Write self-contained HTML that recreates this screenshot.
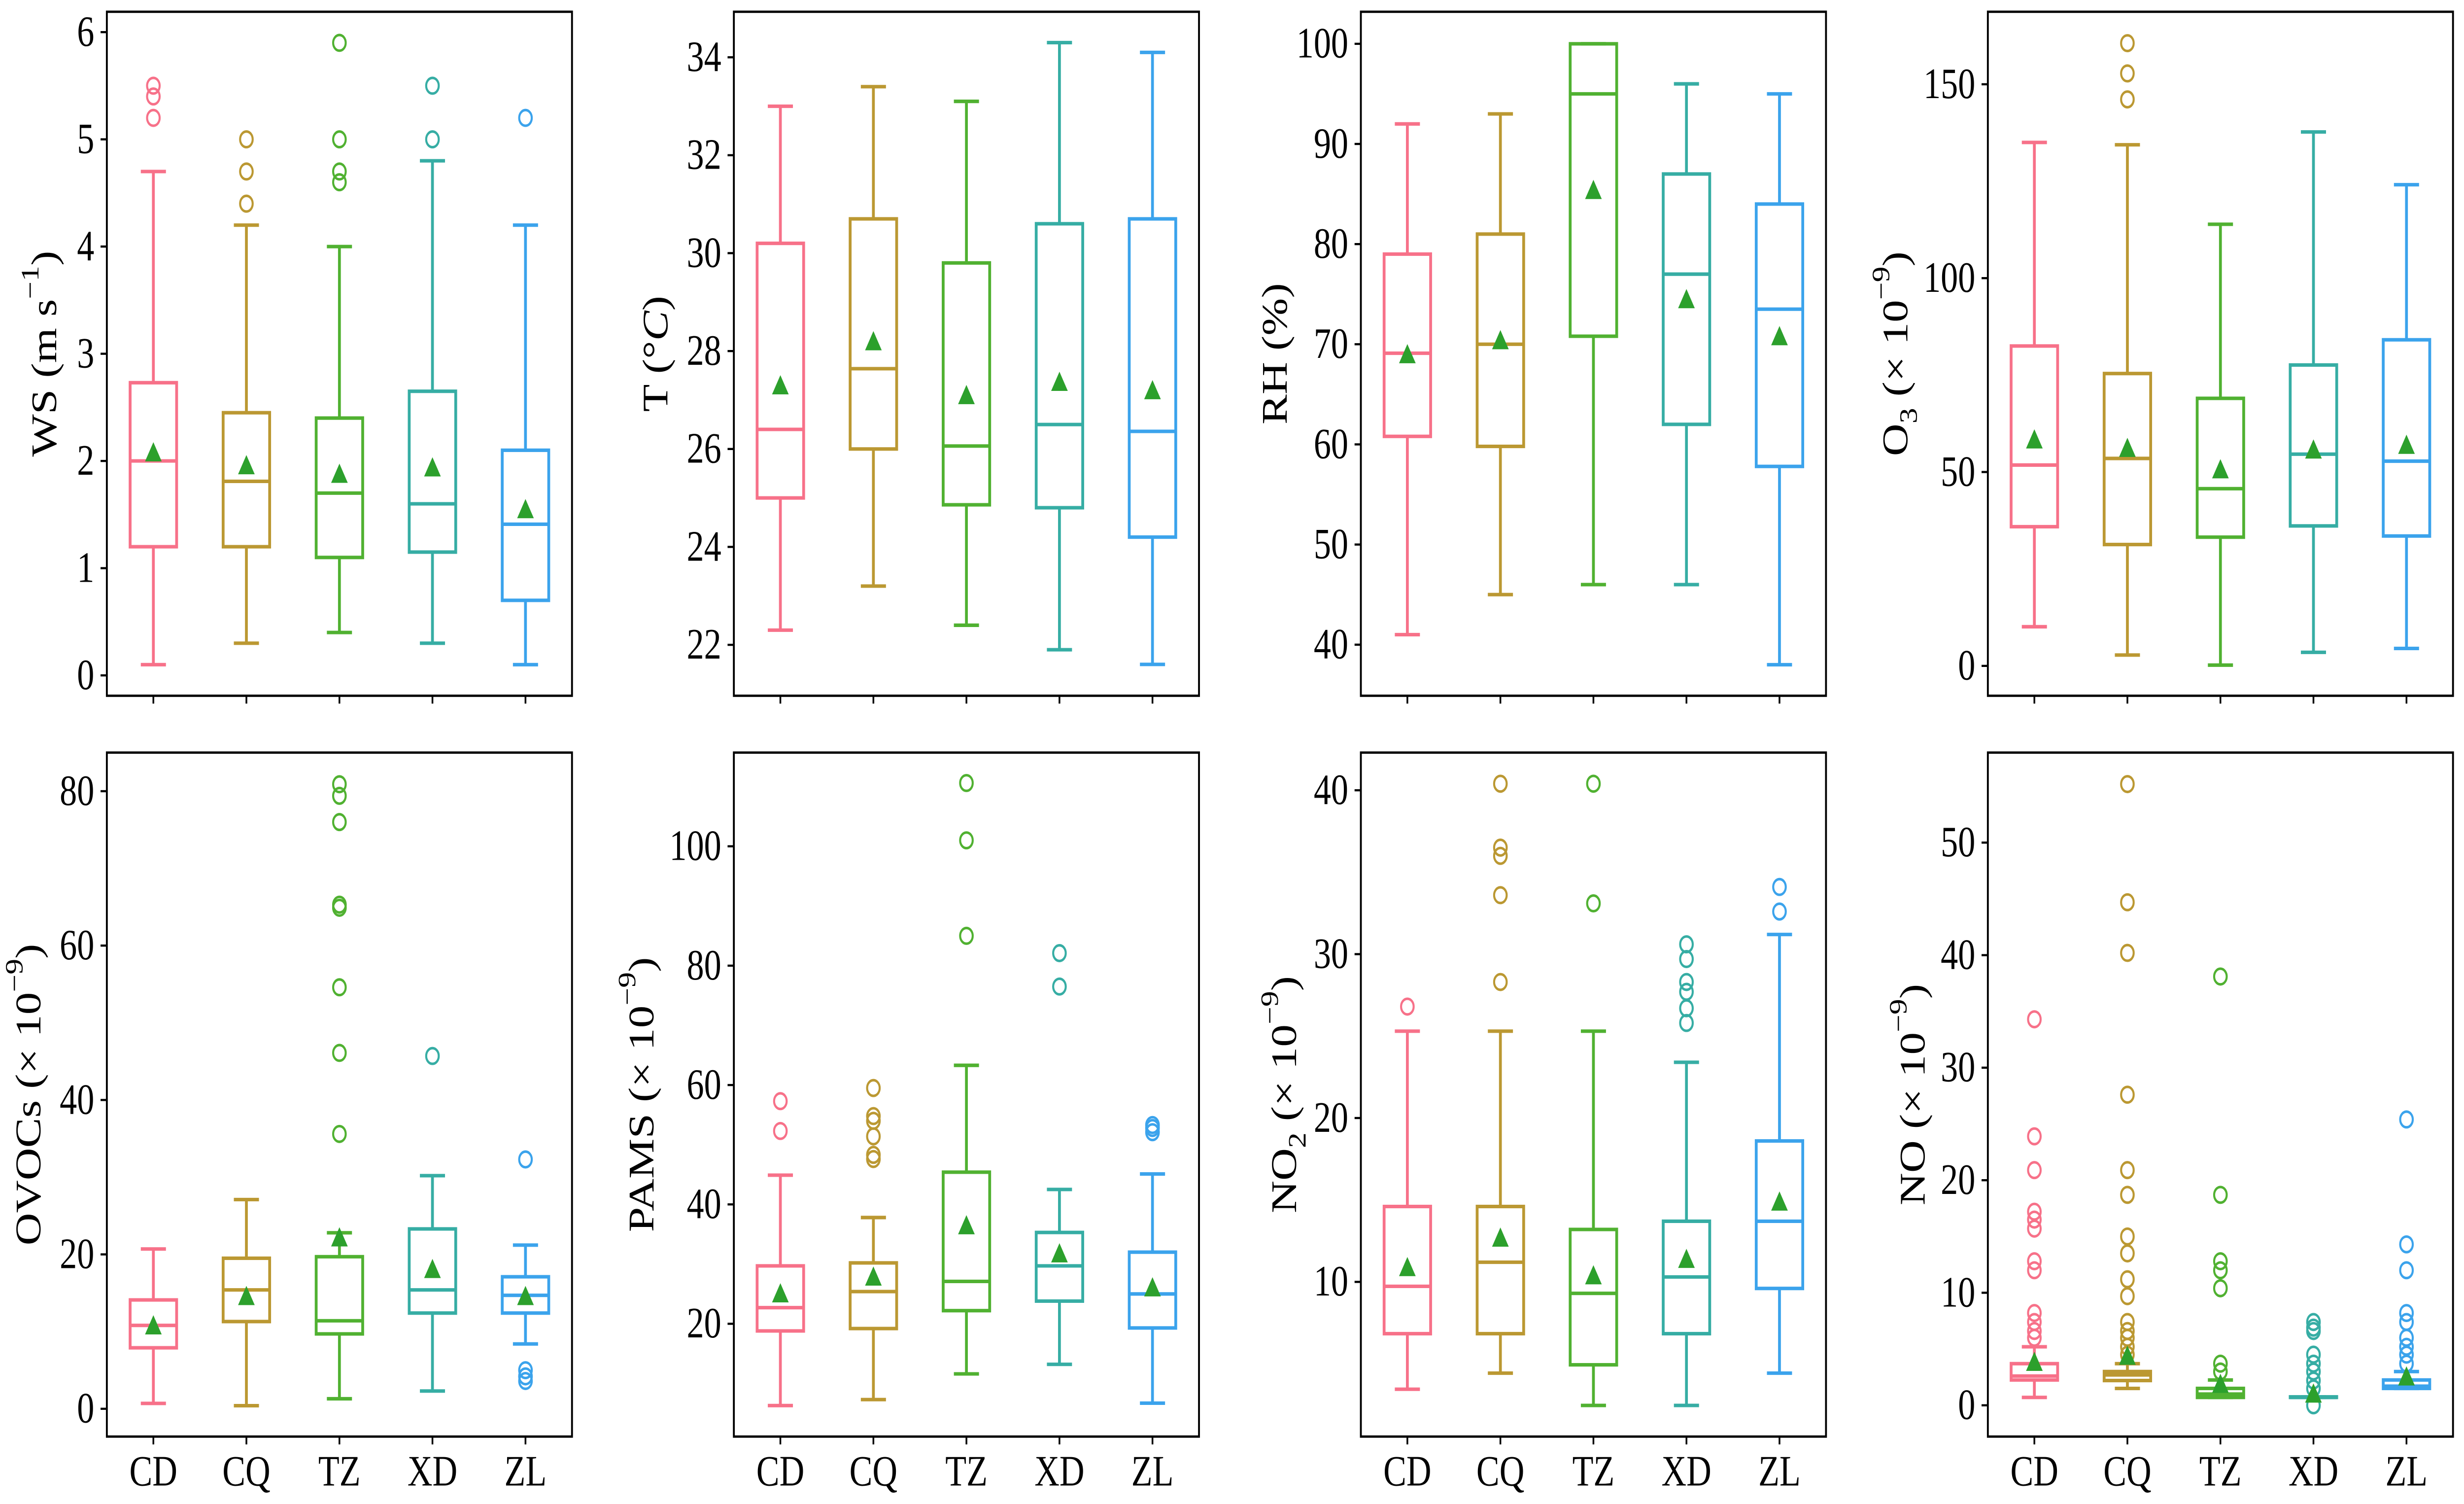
<!DOCTYPE html>
<html>
<head>
<meta charset="utf-8">
<style>
html,body{margin:0;padding:0;background:#fff;width:100%;height:100%;overflow:hidden;}
svg{display:block;width:100vw;height:100vh;}
text{font-family:"Liberation Serif","Times New Roman",serif;fill:#000;}
</style>
</head>
<body>
<svg id="chart" xmlns="http://www.w3.org/2000/svg" viewBox="0 0 1568 767.4" preserveAspectRatio="none">
<rect x="0" y="0" width="1568" height="767.4" fill="#fff"/>
</svg>
<script>
const categories = ["CD","CQ","TZ","XD","ZL"];
const colors = ["#f77189","#bb9832","#50b131","#36ada4","#3ba3ec"];

// WS
const wsLow=[0.1,0.3,0.4,0.3,0.1];
const wsQ1=[1.2,1.2,1.1,1.15,0.7];
const wsMed=[2.0,1.81,1.7,1.6,1.41];
const wsQ3=[2.73,2.45,2.4,2.65,2.1];
const wsHigh=[4.7,4.2,4.0,4.8,4.2];
const wsMean=[2.08,1.96,1.88,1.94,1.55];
const wsOut=[[5.5,5.4,5.2],[5.0,4.7,4.4],[5.9,5.0,4.7,4.6],[5.5,5.0],[5.2]];
const wsTicks=[0,1,2,3,4,5,6];
// T
const tLow=[22.3,23.2,22.4,21.9,21.6];
const tQ1=[25.0,26.0,24.86,24.8,24.2];
const tMed=[26.4,27.64,26.06,26.5,26.36];
const tQ3=[30.2,30.7,29.8,30.6,30.7];
const tHigh=[33.0,33.4,33.1,34.3,34.1];
const tMean=[27.3,28.2,27.1,27.37,27.2];
const tOut=[[],[],[],[],[]];
const tTicks=[22,24,26,28,30,32,34];
// RH
const rhLow=[41,45,46,46,38];
const rhQ1=[60.8,59.8,70.8,62,57.8];
const rhMed=[69.1,70.0,95,77,73.5];
const rhQ3=[79,81,100,87,84];
const rhHigh=[92,93,100,96,95];
const rhMean=[69.0,70.4,85.4,74.5,70.8];
const rhOut=[[],[],[],[],[]];
const rhTicks=[40,50,60,70,80,90,100];
// O3
const o3Low=[10.1,2.8,0.2,3.5,4.5];
const o3Q1=[35.9,31.3,33.2,36.1,33.5];
const o3Med=[51.8,53.5,45.7,54.6,52.8];
const o3Q3=[82.5,75.4,69,77.6,84.1];
const o3High=[135,134.4,113.9,137.7,124.1];
const o3Mean=[58.4,56.2,50.7,55.8,57];
const o3Out=[[],[160.6,152.8,146.1],[],[],[]];
const o3Ticks=[0,50,100,150];
// OVOCs
const ovLow=[0.7,0.4,1.3,2.3,8.4];
const ovQ1=[7.9,11.3,9.7,12.4,12.4];
const ovMed=[10.8,15.4,11.4,15.4,14.7];
const ovQ3=[14.1,19.5,19.7,23.3,17.1];
const ovHigh=[20.7,27.1,22.8,30.2,21.2];
const ovMean=[10.8,14.6,22.2,18.1,14.6];
const ovOut=[[],[],[80.9,79.4,76.0,65.3,64.9,54.6,46.1,35.6],[45.7],[32.3,5.0,4.2,3.6]];
const ovTicks=[0,20,40,60,80];
// PAMS
const paLow=[6.3,7.3,11.6,13.2,6.7];
const paQ1=[18.8,19.2,22.2,23.8,19.3];
const paMed=[22.7,25.4,27.1,29.7,25.0];
const paQ3=[29.7,30.2,45.4,35.3,32.0];
const paHigh=[44.9,37.8,63.3,42.5,45.1];
const paMean=[25.1,27.9,36.5,31.8,26.1];
const paOut=[[57.3,52.3],[59.5,54.8,54.0,51.4,48.3,47.6],[110.6,101,85],[82.1,76.5],[53.3,52.8,52.1]];
const paTicks=[20,40,60,80,100];
// NO2
const n2Low=[3.45,4.43,2.46,2.46,4.43];
const n2Q1=[6.84,6.84,4.94,6.84,9.6];
const n2Med=[9.73,11.2,9.3,10.3,13.7];
const n2Q3=[14.6,14.6,13.2,13.7,18.6];
const n2High=[25.3,25.3,25.3,23.4,31.2];
const n2Mean=[10.9,12.7,10.4,11.4,14.9];
const n2Out=[[26.8],[40.4,36.5,36.0,33.6,28.3],[40.4,33.1],[30.6,29.7,28.3,27.7,26.7,25.8],[34.1,32.6]];
const n2Ticks=[10,20,30,40];
// NO
const noLow=[0.7,1.5,0.7,0.7,1.5];
const noQ1=[2.25,2.2,0.7,0.7,1.5];
const noMed=[2.6,2.7,1.0,0.7,1.7];
const noQ3=[3.7,3.0,1.5,0.75,2.25];
const noHigh=[5.2,3.7,2.25,0.75,3.0];
const noMean=[3.86,4.4,1.9,1.04,2.56];
const noOut=[[34.3,23.9,20.9,17.2,16.5,15.7,12.8,12.0,8.2,7.4,6.6,6.0],[55.2,44.7,40.2,27.6,20.9,18.7,15.0,13.5,11.2,9.7,7.4,6.6,6.0,5.2,4.5],[38.1,18.7,12.8,12.0,10.4,3.7,3.0],[7.4,6.9,6.6,4.5,3.7,3.0,2.2,1.5,0],[25.4,14.3,12.0,8.2,7.4,6.0,5.2,4.5,3.7]];
const noTicks=[0,10,20,30,40,50];

const NS="http://www.w3.org/2000/svg";
const svg=document.getElementById("chart");
function mk(tag,attrs,parent){const e=document.createElementNS(NS,tag);for(const k in attrs)e.setAttribute(k,attrs[k]);(parent||svg).appendChild(e);return e;}

const panels=[
 {key:"ws",col:0,row:0,min:-0.19,max:6.19,low:wsLow,q1:wsQ1,med:wsMed,q3:wsQ3,high:wsHigh,mean:wsMean,out:wsOut,ticks:wsTicks,lx:28,label:'WS (m s<tspan baseline-shift="super" font-size="16">−1</tspan>)'},
 {key:"t",col:1,row:0,min:20.96,max:34.93,low:tLow,q1:tQ1,med:tMed,q3:tQ3,high:tHigh,mean:tMean,out:tOut,ticks:tTicks,lx:417,label:'T (°<tspan font-style="italic">C</tspan>)'},
 {key:"rh",col:2,row:0,min:34.9,max:103.2,low:rhLow,q1:rhQ1,med:rhMed,q3:rhQ3,high:rhHigh,mean:rhMean,out:rhOut,ticks:rhTicks,lx:811,label:'RH (%)'},
 {key:"o3",col:3,row:0,min:-7.7,max:168.7,low:o3Low,q1:o3Q1,med:o3Med,q3:o3Q3,high:o3High,mean:o3Mean,out:o3Out,ticks:o3Ticks,lx:1206,label:'O<tspan baseline-shift="sub" font-size="16">3</tspan> (× 10<tspan baseline-shift="super" font-size="16">−9</tspan>)'},
 {key:"ovocs",col:0,row:1,min:-3.6,max:85.0,low:ovLow,q1:ovQ1,med:ovMed,q3:ovQ3,high:ovHigh,mean:ovMean,out:ovOut,ticks:ovTicks,lx:18,label:'OVOCs (× 10<tspan baseline-shift="super" font-size="16">−9</tspan>)'},
 {key:"pams",col:1,row:1,min:1.1,max:115.7,low:paLow,q1:paQ1,med:paMed,q3:paQ3,high:paHigh,mean:paMean,out:paOut,ticks:paTicks,lx:408,label:'PAMS (× 10<tspan baseline-shift="super" font-size="16">−9</tspan>)'},
 {key:"no2",col:2,row:1,min:0.56,max:42.3,low:n2Low,q1:n2Q1,med:n2Med,q3:n2Q3,high:n2High,mean:n2Mean,out:n2Out,ticks:n2Ticks,lx:817,label:'NO<tspan baseline-shift="sub" font-size="16">2</tspan> (× 10<tspan baseline-shift="super" font-size="16">−9</tspan>)'},
 {key:"no",col:3,row:1,min:-2.78,max:58.0,low:noLow,q1:noQ1,med:noMed,q3:noQ3,high:noHigh,mean:noMean,out:noOut,ticks:noTicks,lx:1217,label:'NO (× 10<tspan baseline-shift="super" font-size="16">−9</tspan>)'}
];
const lefts=[68,467,866,1265], tops=[6,384], W=296, H=349;

panels.forEach(p=>{
  const L=lefts[p.col], T=tops[p.row], B=T+H;
  const g=mk("g",{});
  
  
  const y=v=>B-(v-p.min)/(p.max-p.min)*H;
  const x=i=>L+W*(i+0.5)/5;
  const bw=W/5*0.5, cw=bw*0.54;
  const fr=mk("rect",{x:L,y:T,width:W,height:H,fill:"none",stroke:"#000","stroke-width":1.2},g);
  
  
  p.ticks.forEach(t=>{
    const yy=y(t);
    mk("line",{x1:L-4,x2:L,y1:yy,y2:yy,stroke:"#000","stroke-width":1.1},g);
    const tl=mk("text",{x:L-8,y:yy+7,"text-anchor":"end","font-size":22},g);
    tl.textContent=t;
    
    
  });
  categories.forEach((c,i)=>{
    mk("line",{x1:x(i),x2:x(i),y1:B,y2:B+4,stroke:"#000","stroke-width":1.1},g);
    if(p.row===1){
      const xl=mk("text",{x:x(i),y:758,"text-anchor":"middle","font-size":22},g);
      xl.textContent=c;
      
      
    }
  });
  const yl=mk("text",{x:p.lx,y:(T+B)/2,"text-anchor":"middle","font-size":23,transform:`rotate(-90 ${p.lx} ${(T+B)/2})`,"dominant-baseline":"central"},g);
  yl.innerHTML=p.label;
  
  
  categories.forEach((c,i)=>{
    const col=colors[i], cx=x(i);
    const bg=mk("g",{stroke:col,"stroke-width":1.8,fill:"none"},g);
    
    
    mk("line",{x1:cx,x2:cx,y1:y(p.low[i]),y2:y(p.q1[i])},bg);
    mk("line",{x1:cx,x2:cx,y1:y(p.q3[i]),y2:y(p.high[i])},bg);
    mk("line",{x1:cx-cw/2,x2:cx+cw/2,y1:y(p.low[i]),y2:y(p.low[i])},bg);
    mk("line",{x1:cx-cw/2,x2:cx+cw/2,y1:y(p.high[i]),y2:y(p.high[i])},bg);
    mk("rect",{x:cx-bw/2,y:y(p.q3[i]),width:bw,height:Math.max(0.1,y(p.q1[i])-y(p.q3[i]))},bg);
    mk("line",{x1:cx-bw/2,x2:cx+bw/2,y1:y(p.med[i]),y2:y(p.med[i])},bg);
    p.out[i].forEach(v=>{
      const o=mk("circle",{cx:cx,cy:y(v),r:4,"stroke-width":1.3},bg);
      
      
    });
    const my=y(p.mean[i]);
    const m=mk("polygon",{points:`${cx},${my-5.2} ${cx-5.3},${my+4.6} ${cx+5.3},${my+4.6}`,fill:"#2ca02c",stroke:"none"},g);
    
    
  });
});
</script>
</body>
</html>
